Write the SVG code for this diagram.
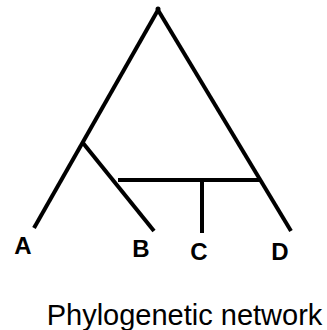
<svg xmlns="http://www.w3.org/2000/svg" width="327" height="330" viewBox="0 0 327 330">
<style>
.edge{stroke:#000;stroke-width:4;fill:none;stroke-linecap:butt}
.lbl{font-family:"Liberation Sans",Arial,sans-serif;font-weight:bold;font-size:24px;text-anchor:middle;fill:#000}
.cap{font-family:"Liberation Sans",Arial,sans-serif;font-size:29px;text-anchor:middle;fill:#000}
</style>
<rect width="327" height="330" fill="#fff"/>
<g id="connectors">
<line class="edge" x1="158" y1="10" x2="34" y2="228"/>
<line class="edge" x1="158" y1="10" x2="291" y2="231"/>
<line class="edge" x1="83" y1="143" x2="154" y2="231"/>
<line class="edge" x1="118" y1="180" x2="260" y2="180"/>
<line class="edge" x1="202" y1="180" x2="202" y2="233"/>
</g>
<g id="root"><circle cx="158" cy="9" r="2.5" fill="#000"/></g>
<g id="A"><text class="lbl" x="23" y="254">A</text></g>
<g id="B"><text class="lbl" x="141" y="257">B</text></g>
<g id="C"><text class="lbl" x="199" y="260">C</text></g>
<g id="D"><text class="lbl" x="280" y="260">D</text></g>
<g id="caption"><text class="cap" x="184.5" y="325">Phylogenetic network</text></g>
</svg>
